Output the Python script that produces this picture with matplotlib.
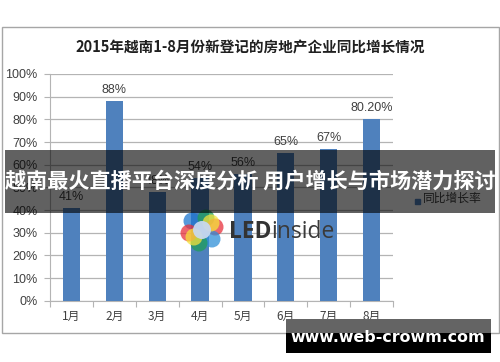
import matplotlib
matplotlib.use("Agg")
import matplotlib.pyplot as plt
from matplotlib.patches import Rectangle, Circle

plt.rcParams['font.family'] = ['Noto Sans CJK SC', 'DejaVu Sans']

title = "2015年越南1-8月份新登记的房地产企业同比增长情况"
months = ["1月", "2月", "3月", "4月", "5月", "6月", "7月", "8月"]
values = [41, 88, 48, 54, 56, 65, 67, 80.2]
value_labels = ["41%", "88%", "48%", "54%", "56%", "65%", "67%", "80.20%"]
legend_label = "同比增长率"
yticks = [0, 10, 20, 30, 40, 50, 60, 70, 80, 90, 100]
banner_text = "越南最火直播平台深度分析 用户增长与市场潜力探讨"
site_text = "www.web-crowm.com"

W, H = 500, 362
fig = plt.figure(figsize=(W / 100, H / 100), dpi=100)
fig.patch.set_facecolor("white")

def fx(px):
    return px / W

def fy(py):
    return 1 - py / H

num_font = ['Liberation Sans', 'DejaVu Sans']

# outer chart border
fig.patches.append(Rectangle((fx(1.5), fy(333)), fx(497), 306 / H, transform=fig.transFigure,
                             fill=False, edgecolor="#a6a6a6", linewidth=1.0, zorder=0))

ax = fig.add_axes([fx(50), fy(300.7), fx(393 - 50), (300.7 - 74) / H])
x = list(range(len(months)))
bar_color = "#4f81bd"
ax.bar(x, values, width=0.4, color=bar_color, zorder=3)
for xi, v, lab in zip(x, values, value_labels):
    ax.text(xi, v + 2.2, lab, ha="center", va="bottom", fontsize=9, color="#404040",
            family=num_font, zorder=4)
ax.set_xlim(-0.5, len(months) - 0.5)
ax.set_ylim(0, 100)
ax.set_yticks(yticks)
ax.set_yticklabels([f"{t}%" for t in yticks], fontsize=9, color="#404040", family=num_font)
ax.yaxis.grid(True, color="#b4b4b4", linewidth=0.9, zorder=0)
ax.set_axisbelow(True)
ax.set_xticks([i - 0.5 for i in range(len(months) + 1)])
ax.set_xticklabels([])
ax.set_xticks(x, minor=True)
ax.set_xticklabels(months, minor=True, fontsize=8.5, color="#404040")
ax.tick_params(axis="x", which="minor", length=0, pad=7)
ax.tick_params(axis="x", which="major", length=4, color="#b4b4b4")
ax.tick_params(axis="y", length=4, color="#b4b4b4", pad=5)
for s in ["top", "right"]:
    ax.spines[s].set_visible(False)
ax.spines["left"].set_color("#b4b4b4")
ax.spines["bottom"].set_color("#b4b4b4")
ax.patch.set_alpha(0)

# legend
fig.patches.append(Rectangle((fx(415), fy(204)), fx(5), 5 / H, transform=fig.transFigure,
                             color=bar_color, zorder=1))
fig.text(fx(423), fy(198), legend_label, fontsize=8.5, color="#404040", va="center", ha="left", zorder=1)

# title
fig.text(0.5, fy(47), title, ha="center", va="center", fontsize=10.5, fontweight="bold", color="#202020")

# LEDinside watermark logo
logo_ax = fig.add_axes([0, 0, 1, 1], facecolor="none")
logo_ax.set_xlim(0, W)
logo_ax.set_ylim(H, 0)
logo_ax.axis("off")
cx, cy = 202, 230
petals = [(-10, -9, "#1f77d0"), (4, -12, "#1e9e5a"), (13, -3, "#e8323c"), (10, 9, "#2f8fd8"),
          (-3, 13, "#1e9e5a"), (-13, 3, "#e8323c"), (9, -7, "#f5e23a"), (-8, 7, "#f5e23a")]
for dx, dy, c in petals:
    logo_ax.add_patch(Circle((cx + dx, cy + dy), 8.5, color=c, alpha=0.75, lw=0))
logo_ax.add_patch(Circle((cx, cy), 9, color="#c8d8ee", alpha=0.95, lw=0))
logo_ax.text(229, 232, "LED", fontsize=16.5, fontweight="bold", color="#333333", va="center", ha="left",
             family=['Open Sans', 'DejaVu Sans'])
logo_ax.text(271, 232, "inside", fontsize=16.5, color="#3a3a3a", va="center", ha="left",
             family=['Open Sans', 'DejaVu Sans'])

# banner
fig.patches.append(Rectangle((fx(5), fy(212.7)), fx(490), (212.7 - 150) / H, transform=fig.transFigure,
                             color="black", alpha=0.62, lw=0, zorder=10))
fig.text(0.5, fy(181), banner_text, ha="center", va="center", fontsize=15.2, fontweight="bold",
         color="white", zorder=11)

# site watermark
fig.patches.append(Rectangle((fx(286), fy(333)), fx(205), 14 / H, transform=fig.transFigure,
                             color="#646464", lw=0, zorder=10))
fig.patches.append(Rectangle((fx(286), fy(352.7)), fx(205), (352.7 - 333) / H, transform=fig.transFigure,
                             color="black", lw=0, zorder=10))
fig.text(fx(388), fy(337), site_text, ha="center", va="center", fontsize=11.4, fontweight="bold",
         color="white", family=['DejaVu Sans'], zorder=11)

fig.savefig("out.png", dpi=100, facecolor="white")
